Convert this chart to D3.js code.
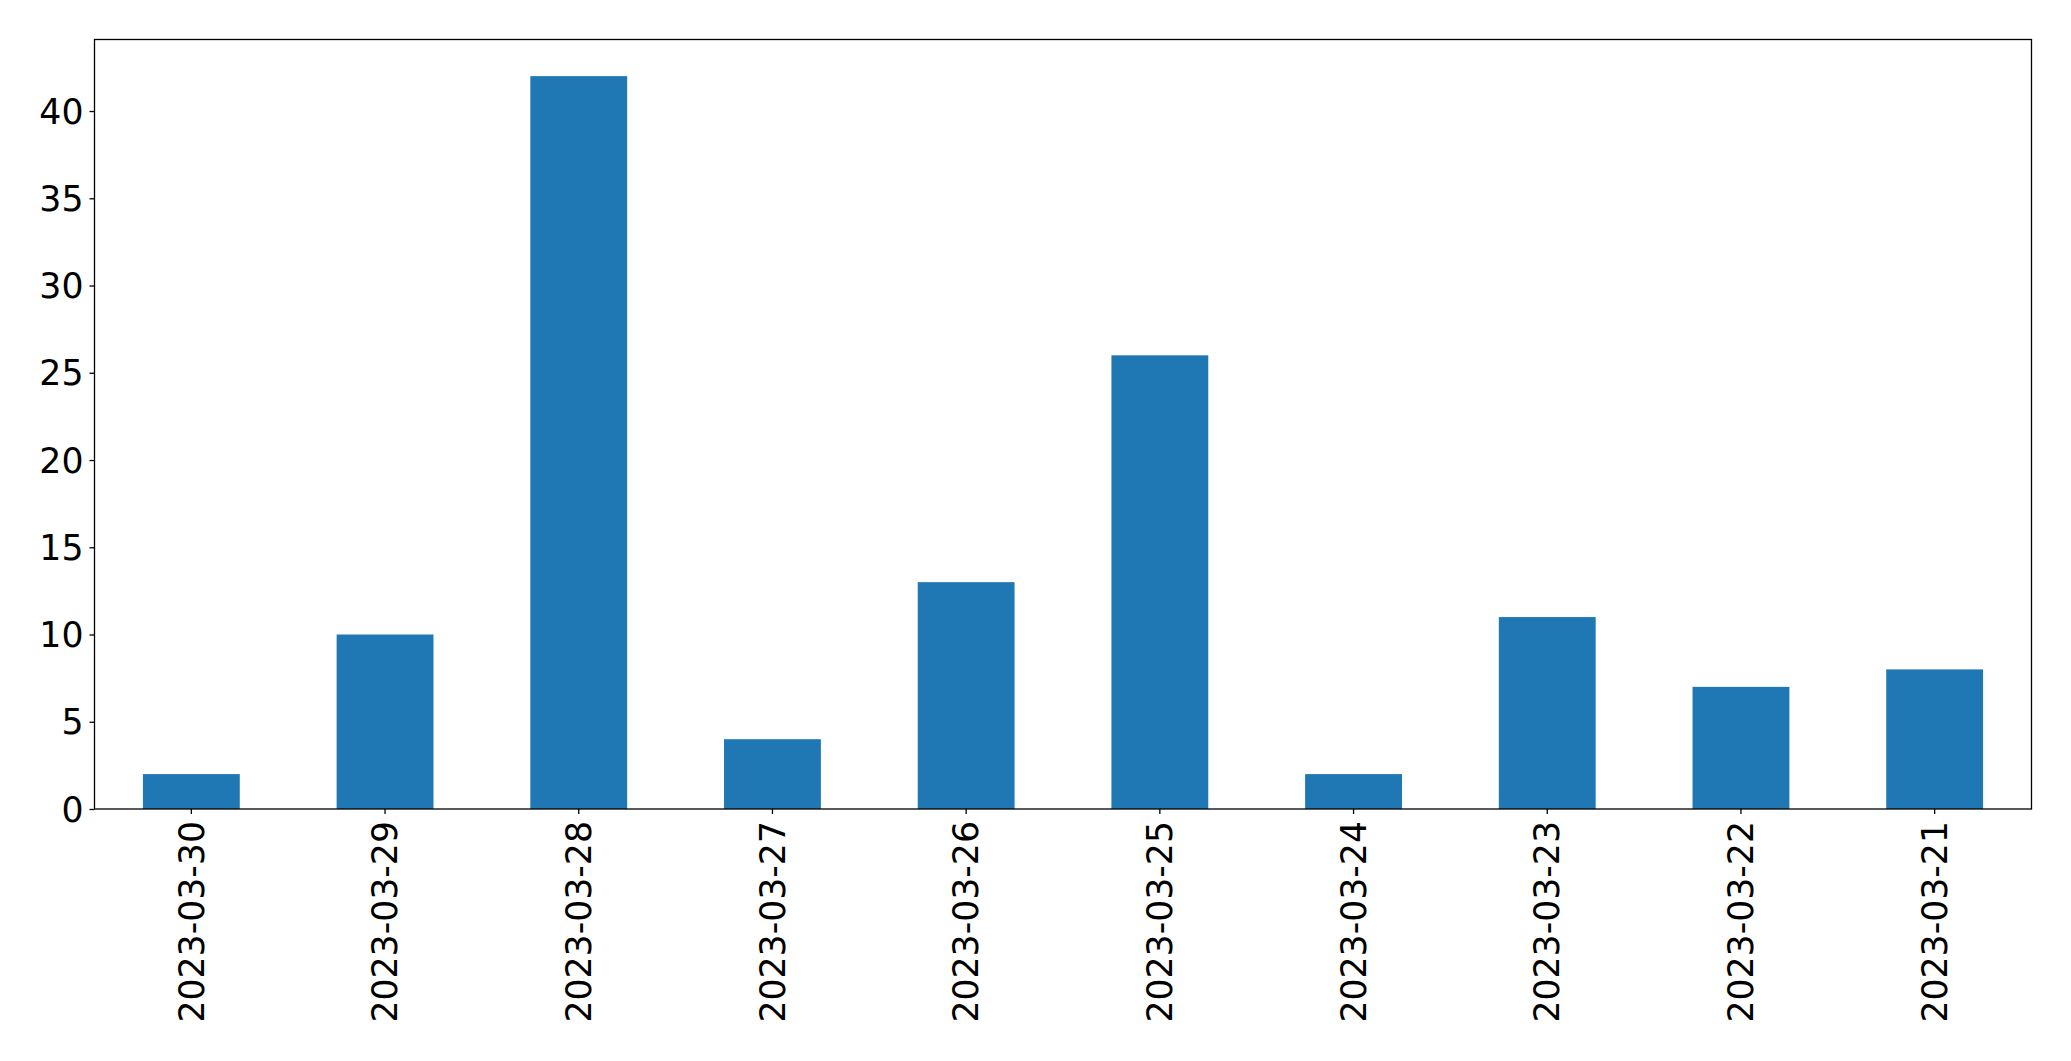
<!DOCTYPE html>
<html><head><meta charset="utf-8">
<script src="https://cdn.jsdelivr.net/npm/d3@7"></script>
<style>html,body{margin:0;padding:0;background:#fff;}svg{display:block;}</style>
</head><body>
<script>
const categories = ["2023-03-30","2023-03-29","2023-03-28","2023-03-27","2023-03-26","2023-03-25","2023-03-24","2023-03-23","2023-03-22","2023-03-21"];
const values = [2,10,42,4,13,26,2,11,7,8];
const yTicks = [0,5,10,15,20,25,30,35,40];

const W = 2071, H = 1061;
const m = {left: 94.5, right: 2031.5, top: 39.5, bottom: 809};
const fs = 34.7;
const svg = d3.select("body").append("svg").attr("width", W).attr("height", H);

const x = d3.scaleBand().domain(categories).range([m.left, m.right]).paddingInner(0.5).paddingOuter(0.25);
const y = d3.scaleLinear().domain([0, 42*1.05]).range([m.bottom, m.top]);

svg.append("g").selectAll("rect").data(values).join("rect")
  .attr("x", (d,i) => x(categories[i]))
  .attr("y", d => y(d))
  .attr("width", x.bandwidth())
  .attr("height", d => y(0) - y(d))
  .attr("fill", "#1f77b4");

const xa = svg.append("g").attr("transform", `translate(0,${m.bottom})`)
  .call(d3.axisBottom(x).tickSize(5).tickPadding(6));
xa.select(".domain").remove();
xa.selectAll("line").attr("stroke","#000").attr("stroke-width",1.3);
xa.selectAll("text")
  .attr("font-family","DejaVu Sans").attr("font-size",fs).attr("fill","#000")
  .attr("transform","rotate(-90)")
  .attr("text-anchor","end")
  .attr("x",-12).attr("y",0).attr("dy","0.35em");

const ya = svg.append("g").attr("transform", `translate(${m.left},0)`)
  .call(d3.axisLeft(y).tickValues(yTicks).tickSize(5).tickPadding(6));
ya.select(".domain").remove();
ya.selectAll("line").attr("stroke","#000").attr("stroke-width",1.3);
ya.selectAll("text").attr("font-family","DejaVu Sans").attr("font-size",fs).attr("fill","#000").attr("dy","0.35em");

svg.append("rect").attr("x", m.left).attr("y", m.top)
  .attr("width", m.right - m.left).attr("height", m.bottom - m.top)
  .attr("fill","none").attr("stroke","#000").attr("stroke-width",1.3);
</script>
</body></html>
